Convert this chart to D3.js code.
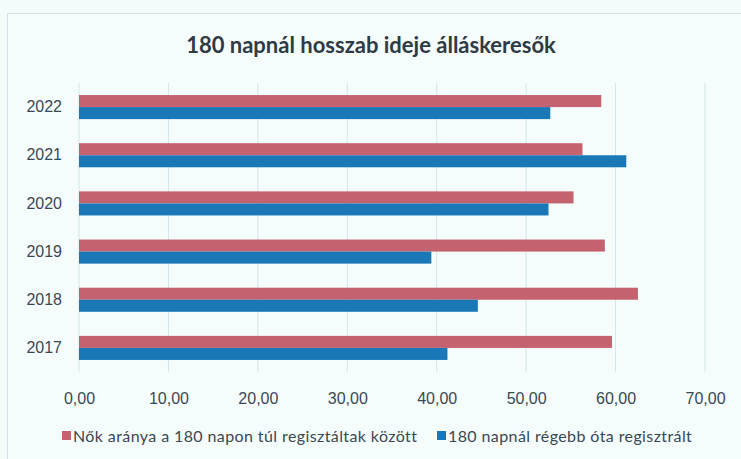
<!DOCTYPE html>
<html>
<head>
<meta charset="utf-8">
<script src="https://cdn.jsdelivr.net/npm/d3@7"></script>
<style>
  body { margin: 0; background: #f3fbfb; }
  svg { display: block; font-family: Lato, "Open Sans", sans-serif; }
</style>
</head>
<body>
<svg id="chart"></svg>
<script>
var years = ["2022", "2021", "2020", "2019", "2018", "2017"]
var womenShare = [58.4, 56.3, 55.3, 58.8, 62.5, 59.6]
var longTerm = [52.7, 61.2, 52.5, 39.4, 44.6, 41.2]
var xTicks = [0, 10, 20, 30, 40, 50, 60, 70]
var seriesNames = ["Nők aránya a 180 napon túl regisztáltak között", "180 napnál régebb óta regisztrált"]
var colors = ["#c4636f", "#1b78b6"]

var dimensions = {
    width: 741,
    height: 459,
    margin: { top: 83, bottom: 87, left: 79, right: 36 }
}

var svg = d3.select("#chart")
            .attr("width", dimensions.width)
            .attr("height", dimensions.height)

// chart frame
svg.append("rect")
   .attr("x", 7.5).attr("y", 13.5)
   .attr("width", 735).attr("height", 460)
   .attr("fill", "#f5fcfc")
   .attr("stroke", "#cfe3e6")

svg.append("text")
   .attr("x", 371)
   .attr("y", 53)
   .attr("text-anchor", "middle")
   .style("font-size", "22px")
   .style("font-weight", "bold")
   .style("fill", "#2e3a44")
   .text("180 napnál hosszab ideje álláskeresők")

var xScale = d3.scaleLinear()
               .domain([0, 70])
               .range([dimensions.margin.left, dimensions.width - dimensions.margin.right])

var yScale = d3.scaleBand()
               .domain(years)
               .range([dimensions.margin.top, dimensions.height - dimensions.margin.bottom])
               .paddingInner(0.5)
               .paddingOuter(0.25)

var inner = d3.scaleBand()
              .domain([0, 1])
              .range([0, yScale.bandwidth()])

// gridlines
svg.append("g")
   .selectAll("line")
   .data(xTicks)
   .enter()
   .append("line")
   .attr("x1", d => xScale(d))
   .attr("x2", d => xScale(d))
   .attr("y1", dimensions.margin.top)
   .attr("y2", dimensions.height - dimensions.margin.bottom)
   .attr("stroke", "#d3e6ea")
   .attr("stroke-width", 1)

var series = [womenShare, longTerm]
series.forEach(function(values, s) {
    svg.append("g")
       .selectAll("rect")
       .data(years)
       .enter()
       .append("rect")
       .attr("x", xScale(0))
       .attr("y", (d, i) => yScale(d) + inner(s))
       .attr("width", (d, i) => xScale(values[i]) - xScale(0))
       .attr("height", inner.bandwidth())
       .attr("fill", colors[s])
})

var xAxisGen = d3.axisBottom(xScale)
                 .tickValues(xTicks)
                 .tickSize(0)
                 .tickPadding(21)
                 .tickFormat(d => d3.format(".2f")(d).replace(".", ","))
var xAxis = svg.append("g")
               .attr("transform", `translate(0,${dimensions.height - dimensions.margin.bottom})`)
               .call(xAxisGen)
xAxis.select(".domain").remove()
xAxis.selectAll("text").style("font-size", "16px").style("fill", "#3a4854")

var yAxisGen = d3.axisLeft(yScale).tickSize(0).tickPadding(17)
var yAxis = svg.append("g")
               .attr("transform", `translate(${dimensions.margin.left},0)`)
               .call(yAxisGen)
yAxis.select(".domain").remove()
yAxis.selectAll("text").style("font-size", "16px").style("fill", "#3a4854")

// legend
var legendX = [62, 437]
var legend = svg.append("g")
seriesNames.forEach(function(name, i) {
    legend.append("rect")
          .attr("x", legendX[i]).attr("y", 431)
          .attr("width", 9).attr("height", 9)
          .attr("fill", colors[i])
    legend.append("text")
          .attr("x", legendX[i] + 11).attr("y", 442)
          .style("font-size", "16px")
          .style("letter-spacing", "0.4px")
          .style("fill", "#3a4854")
          .text(name)
})
</script>
</body>
</html>
